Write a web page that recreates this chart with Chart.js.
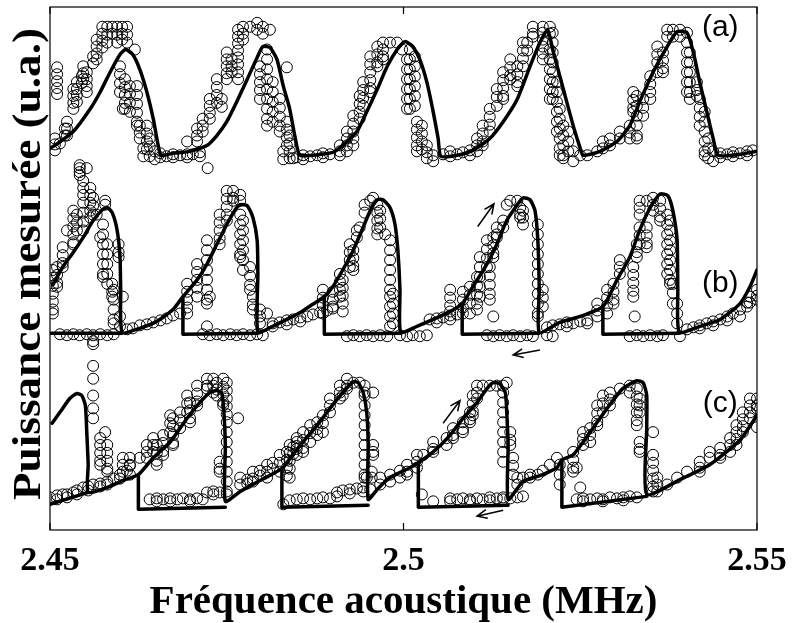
<!DOCTYPE html>
<html>
<head>
<meta charset="utf-8">
<script src="https://cdn.jsdelivr.net/npm/chart.js@4.4.1/dist/chart.umd.min.js"></script>
<style>
  html, body { margin: 0; padding: 0; background: #fff; }
  #plot { display: block; }
</style>
</head>
<body>
<canvas id="plot" width="792" height="623"></canvas>
<script>
// x ticks (MHz)
const freqTicks = [2.45, 2.5, 2.55];

// measured scans, one entry per frequency: [f (MHz), power, power, ...]
// (a), (b) and (c) are stacked on one arbitrary power axis
const scanA = [
  [2.4510,468,461,454,447,441],[2.4507,396,390,384],[2.4514,391],[2.4521,406,399],[2.4524,413,406,399],
  [2.4533,446,439,432,426],[2.4538,453,446,440,433],[2.4542,369,362],[2.4545,459,452],[2.4547,469,462,456],
  [2.4552,463,456,449,443],[2.4561,479,472],[2.4566,496,489,482,476],[2.4574,509,502,495,488],
  [2.4581,509,501,493],[2.4588,509,502],[2.4595,509,501,493],[2.4602,509,502,496],[2.4609,509,501,493],
  [2.4599,469,461,452,443],[2.4603,426],[2.4606,456,448,440,432,426],[2.4613,449,441,432,423],[2.4620,486],
  [2.4623,449,440,431,422,413,409],[2.4627,409,402,396],[2.4632,386,378],[2.4637,409,401,393,385],
  [2.4641,396,388,378],[2.4648,383,375],
  [2.4656,377,381],[2.4665,378],[2.4674,380,377],[2.4684,379],[2.4694,380,377,393],[2.4702,380],[2.4712,382,378],
  [2.4708,406,399,393],[2.4716,416,409,403],[2.4723,366],[2.4726,436,429,422,416],[2.4736,456,448,440,432],
  [2.4743,436,428],[2.4750,483,476,469,462,456],[2.4757,476,469,463],[2.4766,506,499,492,485,478,471,463,456],
  [2.4773,509,502,496],[2.4783,509],[2.4793,513,506],[2.4801,509,502],[2.4811,506],
  [2.4797,469,461,453,445,436],[2.4807,486,476,466,456,446,436,426,416,409],[2.4815,453,443,433,423,413],
  [2.4825,436,427,418,409,403],[2.4835,468,413,405,397,389],[2.4830,383,375],[2.4839,399,391,383,376],[2.4844,376],
  [2.4849,377],[2.4858,379,375],[2.4868,378],[2.4878,379],[2.4886,381,377],[2.4896,380],
  [2.4910,389,383,379],[2.4920,403,396,389,383],[2.4929,419,411,403,396,389],[2.4938,439,431,423,416],
  [2.4943,453,445,437,429],[2.4953,479,471,463,455,447,443],[2.4963,489,481,473,469],[2.4971,493,486,479,476],
  [2.4981,493],[2.4991,493],[2.4998,486],
  [2.5005,476,466,456,446,436,426],[2.5009,486,476,466,456,446,436,426],[2.5016,479,469,459,449,439,429],
  [2.5019,413,405,397,389,383],[2.5026,409,401,393,385],[2.5033,389,382,376],[2.5042,379,373],
  [2.5056,380],[2.5066,383,378],[2.5076,380],[2.5084,382],[2.5094,384,379],
  [2.5104,396,389,383],[2.5112,409,401,393,389],[2.5122,426,418,410,403],[2.5132,446,438,429],
  [2.5141,463,455,447,439,436],[2.5151,476,468,460,456],[2.5161,469,461,453,449],[2.5169,493,485,477,469],
  [2.5175,493,485],[2.5183,509,502,499],[2.5197,509,503,496,489,482,476],
  [2.5207,509,502,486,476,466,456,446,436],[2.5211,503,493,483,473,463,453,443,436],
  [2.5217,453,443,433,423,413,403],[2.5221,426,416,406,396,386,379],[2.5226,409,399,389,379,376],
  [2.5233,403,393,383],[2.5240,383,373],[2.5250,379],[2.5260,379],[2.5274,383],
  [2.5282,393,386],[2.5292,396,389],[2.5306,403,396],[2.5320,409,402,396],[2.5325,443,435,427,423],
  [2.5330,439,429,419,409,399,396],[2.5339,436,427,419],[2.5349,459,451,443,436],[2.5359,489,481,473,463],
  [2.5367,483,475,467,463],[2.5373,506,499],[2.5381,506,499],[2.5391,506,499],
  [2.5401,503,493,483,473,463,453,443],[2.5405,483,473,463,453,443,436],[2.5415,453,445,439],
  [2.5419,436,427,418,409],[2.5426,423,413,403,393,383,379],[2.5431,396,386,376],[2.5438,383,373],
  [2.5448,381,377],[2.5458,380],[2.5466,382,378],[2.5476,381],[2.5486,383,379],[2.5494,384]
];

const scanB = [
  [2.4542,366,359],[2.4552,366],[2.4547,353,346,339,331,321,312,303],[2.4557,346,339,331,323,316],
  [2.4504,263,255,247,239,231,223,219],[2.4510,266,258,250,246],[2.4518,286,278,270,266],[2.4524,303],
  [2.4533,323,315,307,299,291,289],[2.4538,319,311,303],[2.4561,336,328,319],[2.4566,319],[2.4571,296],
  [2.4578,333,329],[2.4575,309,299,289,279,269,259,256],[2.4581,289,279,269,259,249],[2.4588,249,241,236],
  [2.4590,243,233,223,213,209],[2.4597,289,281,276],[2.4603,236],[2.4599,216,206],
  [2.4514,198],[2.4524,197],[2.4533,198],[2.4542,197],[2.4552,198],[2.4561,197,188],[2.4571,198],[2.4581,197],[2.4590,198],
  [2.4609,203],[2.4617,204],[2.4627,207],[2.4637,208],[2.4646,210],[2.4656,212],[2.4665,214],[2.4674,217],[2.4684,219],
  [2.4694,249,241,233,225,219],[2.4708,269,261,253,245,236],[2.4722,293,283,273,263,253,243,233,229,206],
  [2.4726,236],[2.4740,319,311,303,295,289],[2.4750,343,335,327,319,313],[2.4759,343,336,333],
  [2.4769,339,333,319,309,299,289,279,276],[2.4773,313,303,293,283,273,263],[2.4783,266,257,248,243],
  [2.4787,236,228,223],[2.4797,223,216,209],[2.4807,219],
  [2.4716,198],[2.4726,197],[2.4736,198],[2.4745,197],[2.4755,198],[2.4764,197],[2.4773,198],[2.4783,197],[2.4793,198],[2.4801,197],
  [2.4815,209,206],[2.4825,210],[2.4835,212,208],[2.4844,213],[2.4854,215,211],[2.4864,216],[2.4872,218],[2.4882,220],[2.4892,222],[2.4900,224],
  [2.4886,243,235,227,219],[2.4900,241,233,226],[2.4910,259,251,243,236],[2.4914,253,245,237,229,221],
  [2.4924,289,281,273,266],[2.4929,283,275,267,263],[2.4934,303,296],[2.4938,306],[2.4945,329,321],
  [2.4953,333],[2.4957,336],[2.4963,329,321,313,305,299],[2.4967,323,315,306],[2.4974,299],
  [2.4981,293,283,273,263,253,243,236,226,216,206],[2.4985,239,229,219,209],
  [2.4920,196],[2.4929,197],[2.4938,196],[2.4948,197],[2.4957,196],[2.4967,197],[2.4977,196],[2.4995,197],[2.5005,196],[2.5013,197],[2.5023,196],[2.5033,197],
  [2.5037,213],[2.5047,214,210],[2.5056,215],[2.5066,243,235,227,221,217,213],[2.5076,218],
  [2.5084,241,233,225,219],[2.5094,246,238,229,219],[2.5104,256,247,238,229,223],[2.5108,276,266,256,246,236],
  [2.5118,293,284,275,266,197],[2.5122,266,257,248,239,233],[2.5127,296,288,280,276,216,196],[2.5132,306,299,296],
  [2.5136,197],[2.5141,313,306],[2.5146,329,196],[2.5151,333],[2.5155,197],[2.5161,333],[2.5165,326,319,316,196],
  [2.5169,323,316,309],[2.5175,197],[2.5183,196],[2.5190,309,299,289,279,269,259,249,239,229,219,216],
  [2.5197,243,235,226],[2.5203,197,205],[2.5211,196,207],
  [2.5221,208],[2.5231,206,210],[2.5240,209],[2.5250,211],[2.5260,209,212],
  [2.5274,229,222,216],[2.5288,243,235,227,219],[2.5297,249,241,233,229],[2.5306,273,266,259],
  [2.5325,266,258,250,242,236],[2.5327,216],[2.5330,289,281,276],[2.5334,333,326,319,306,298,289],
  [2.5344,333,306,298,290,286],[2.5353,336,329,323],[2.5363,333,325,317,313],
  [2.5373,319,309,299,289,279,269,259],[2.5377,313,303,293,283,273,263,253,249],[2.5381,249,240,229],[2.5387,229,219,209],
  [2.5320,196],[2.5330,197],[2.5339,196],[2.5349,197],[2.5359,196],[2.5367,197],[2.5391,196],
  [2.5401,203],[2.5410,205],[2.5419,207,204],[2.5429,209],[2.5438,211,207],[2.5448,213],[2.5458,216,212],
  [2.5466,219],[2.5476,223,216],[2.5486,226,230],[2.5490,236,230],[2.5500,243,237,233]
];

const scanC = [
  [2.4561,191,166,153,136,123,113,46],[2.4571,93,86,78,70,66,47,44],[2.4578,99],[2.4581,86,78,70,62,59,49,46],
  [2.4500,33],[2.4510,35,31],[2.4518,36],[2.4524,36,33],[2.4533,38],[2.4538,40,36],[2.4547,43],[2.4554,44,40],
  [2.4590,52],[2.4599,56,52],[2.4609,60],[2.4627,73],
  [2.4603,73,66,59],[2.4613,73,65,56,66],[2.4637,86,79,73],[2.4646,93,86,79],[2.4651,86,78,70,66],
  [2.4660,96,88,80,76],[2.4670,116,108,99],[2.4674,113,105,96,88,86],[2.4684,119,111,103],[2.4694,136,128,119],
  [2.4698,129,121,113,109],[2.4708,146,138,130,126],[2.4722,153,146,143,38],[2.4731,153,146,139,39,36],
  [2.4736,149,142,136],[2.4745,153,145,137,129,126],
  [2.4750,149,141,133,125,117,109,99,89,79,69,59,49,39,36],[2.4740,69,62,59,38],[2.4766,113],
  [2.4641,31],[2.4651,32,29],[2.4660,31],[2.4670,32,29],[2.4680,31],[2.4688,32],[2.4698,31,29],[2.4708,32],[2.4716,31],
  [2.4769,53,46],[2.4779,51,47],[2.4787,59,52,49],[2.4797,60,55],[2.4807,66,59,53],[2.4815,68,62],
  [2.4825,76,68,59],[2.4835,79,71,63,55],[2.4844,84,77],[2.4830,26],
  [2.4839,86,78,70,62,53,30],[2.4849,93,85,76,89,82,31],[2.4858,99,91,83,79,32],[2.4868,106,98,89,31],
  [2.4878,109,102,96,32],[2.4886,116,108,99,33],[2.4896,133,126,119,32],
  [2.4906,38,34],[2.4914,136,40],[2.4924,41,37],[2.4934,42],[2.4943,43,39],[2.4953,41],
  [2.4910,146,139,133],[2.4920,153,146,143],[2.4929,149],[2.4938,149],
  [2.4945,146,139,136,126,116,106,96,86,76,66,56,53],[2.4957,139,86,79,76],[2.4955,59,53],[2.4948,53],
  [2.4967,53,46],[2.4981,56,49],[2.4995,60,53],[2.5005,66,59,56],[2.5019,76,69,63],[2.5028,76],[2.5042,89,82,79,29],
  [2.5026,36],
  [2.5066,32,29],[2.5076,31],[2.5084,32],[2.5094,31,29],[2.5104,32],[2.5112,31],[2.5122,33,30],[2.5132,32],
  [2.5141,31,33],[2.5151,32],[2.5161,33],[2.5169,34],
  [2.5061,93,86],[2.5070,103,96,93],[2.5084,109,102,99],[2.5094,119,112,109],[2.5098,136,128,120,116],
  [2.5104,146,139,133],[2.5112,146],[2.5122,146],[2.5132,146],[2.5146,149],
  [2.5141,146,139,129,119,109,99,89,79,69],[2.5151,99,91,86],[2.5155,73,65,56],[2.5161,53,46],[2.5169,53],
  [2.5179,56,53],[2.5190,56],[2.5197,60],[2.5207,66],[2.5217,73],[2.5221,66,56,46],
  [2.5240,79,71,63,59],[2.5245,63,31],[2.5250,43],[2.5254,99,92,86,32,29],[2.5264,103,96,89,31],
  [2.5274,126,118,110,106,32],[2.5282,136,128,119,31,29],[2.5292,139,132,126,33],[2.5302,32],[2.5306,143],
  [2.5311,33,30],[2.5320,146,139,34],[2.5330,143,135,127,119,111,106,33],[2.5334,133,126,119,89,82,79],
  [2.5353,99,76,68,60,52,44,39],[2.5359,53,46,39],
  [2.5373,46],[2.5387,53],[2.5401,59],[2.5419,69,63,59],[2.5433,79,73],[2.5448,83,76,73],[2.5462,93,86,79],
  [2.5471,106,99,92,86],[2.5480,119,112,105,99],[2.5490,133,126,119,113],[2.5500,133,126,123,104]
];

// model curves [f, power]
const modelA = [
  [2.4500,386],[2.4507,389],[2.4533,403],[2.4557,426],[2.4571,443],[2.4585,463],[2.4599,481],[2.4607,486],
  [2.4617,481],[2.4627,466],[2.4637,443],[2.4646,416],[2.4653,389],[2.4657,379],[2.4674,381],[2.4698,383],
  [2.4722,389],[2.4736,399],[2.4750,413],[2.4764,433],[2.4779,456],[2.4793,478],[2.4801,489],[2.4811,488],
  [2.4821,476],[2.4830,449],[2.4839,426],[2.4847,396],[2.4854,379],[2.4900,382],[2.4914,389],[2.4934,403],
  [2.4948,423],[2.4963,446],[2.4977,469],[2.4991,486],[2.5002,494],[2.5013,489],[2.5023,476],[2.5033,453],
  [2.5042,423],[2.5049,396],[2.5053,378],[2.5076,379],[2.5098,384],[2.5122,396],[2.5141,413],[2.5161,436],
  [2.5179,469],[2.5193,493],[2.5204,506],[2.5211,486],[2.5226,446],[2.5240,409],[2.5250,386],[2.5254,379],
  [2.5278,383],[2.5302,393],[2.5320,409],[2.5334,433],[2.5353,463],[2.5373,489],[2.5387,504],[2.5401,503],
  [2.5410,483],[2.5419,453],[2.5429,423],[2.5438,396],[2.5445,379],[2.5476,380],[2.5500,383]
];

// (b) and (c): upper branch (increasing sweep) and lower branch pieces (decreasing sweep)
const upperB = [
  [2.4504,248],[2.4518,266],[2.4533,281],[2.4547,296],[2.4561,313],[2.4574,324],[2.4581,326],[2.4588,321],
  [2.4595,303],[2.4599,276],[2.4600,243],[2.4602,200],
  [2.4627,204],[2.4651,211],[2.4674,223],[2.4688,236],[2.4708,253],[2.4722,269],[2.4736,289],[2.4750,309],
  [2.4762,324],[2.4769,329],[2.4779,328],[2.4787,316],[2.4793,293],[2.4794,259],[2.4794,200],
  [2.4815,206],[2.4835,213],[2.4854,220],[2.4871,228],[2.4888,236],[2.4900,246],[2.4914,263],[2.4929,283],
  [2.4941,303],[2.4953,323],[2.4963,334],[2.4971,334],[2.4981,326],[2.4988,309],[2.4992,283],[2.4995,243],[2.4996,200],
  [2.5019,206],[2.5042,213],[2.5066,221],[2.5083,229],[2.5098,246],[2.5118,269],[2.5132,289],[2.5146,313],
  [2.5161,329],[2.5169,336],[2.5179,334],[2.5186,323],[2.5190,293],[2.5192,243],[2.5192,200],
  [2.5221,210],[2.5250,216],[2.5282,226],[2.5302,253],[2.5320,276],[2.5334,303],[2.5349,326],[2.5363,340],
  [2.5374,338],[2.5381,323],[2.5387,293],[2.5388,243],[2.5390,200],
  [2.5419,206],[2.5448,213],[2.5476,229],[2.5490,246],[2.5500,263]
];
const lowerB = [
  [[2.4500,199],[2.4602,199]],
  [[2.4688,236],[2.4688,198],[2.4794,199]],
  [[2.4888,236],[2.4888,198],[2.4996,199]],
  [[2.5083,229],[2.5083,198],[2.5192,199]],
  [[2.5282,226],[2.5282,198],[2.5390,199]]
];

const upperC = [
  [2.4503,108],[2.4514,119],[2.4528,133],[2.4538,138],[2.4545,136],[2.4550,126],[2.4552,99],[2.4554,66],[2.4554,38],
  [2.4581,43],[2.4603,50],[2.4625,56],[2.4646,73],[2.4670,89],[2.4694,113],[2.4712,129],[2.4726,139],
  [2.4736,141],[2.4743,138],[2.4746,119],[2.4748,86],[2.4748,29],
  [2.4769,39],[2.4797,50],[2.4828,62],[2.4839,72],[2.4858,89],[2.4878,106],[2.4896,123],[2.4914,139],
  [2.4929,150],[2.4936,149],[2.4943,139],[2.4948,119],[2.4950,86],[2.4950,31],
  [2.4964,42],[2.4981,53],[2.5009,63],[2.5021,68],[2.5042,79],[2.5066,96],[2.5084,113],[2.5104,129],
  [2.5118,143],[2.5127,149],[2.5136,148],[2.5144,139],[2.5146,119],[2.5148,86],[2.5148,31],
  [2.5169,49],[2.5197,56],[2.5217,63],[2.5224,71],[2.5240,76],[2.5264,99],[2.5288,123],[2.5310,143],
  [2.5330,151],[2.5339,149],[2.5344,136],[2.5344,103],[2.5344,36],
  [2.5391,51],[2.5433,66],[2.5476,91],[2.5500,116]
];
const lowerC = [
  [[2.4500,26],[2.4554,38]],
  [[2.4625,56],[2.4625,21],[2.4748,23]],
  [[2.4828,62],[2.4828,23],[2.4950,25]],
  [[2.5021,68],[2.5021,23],[2.5148,25]],
  [[2.5224,71],[2.5224,23],[2.5344,34]]
];

// sweep direction arrows [f tail, power tail, f head, power head]
const sweepArrows = [
  [2.5105,307,2.5128,330],
  [2.5193,182,2.5155,177],
  [2.5056,108,2.5080,131],
  [2.5141,20,2.5104,14]
];
const panelLabels = [['(a)',2.5448,508],['(b)',2.5448,249],['(c)',2.5448,128]];

const serif = "'Liberation Serif', 'Times New Roman', Times, serif";

function stacksToPoints(stacks) {
    var pts = [];
    stacks.forEach(function (s) {
        for (var i = 1; i < s.length; i++) {
            pts.push({x: s[0], y: s[i]});
        }
    });
    return pts;
}

function pairsToPoints(pairs) {
    return pairs.map(function (p) { return {x: p[0], y: p[1]}; });
}

var datasets = [];
[scanA, scanB, scanC].forEach(function (scan) {
    datasets.push({
        data: stacksToPoints(scan),
        showLine: false,
        pointStyle: 'circle',
        pointRadius: 5.5,
        pointHoverRadius: 5.5,
        pointBorderWidth: 1,
        pointBorderColor: '#000',
        pointBackgroundColor: 'rgba(0,0,0,0)',
        order: 2
    });
});
[modelA, upperB, upperC].forEach(function (curve) {
    datasets.push({
        data: pairsToPoints(curve),
        showLine: true,
        pointRadius: 0,
        borderColor: '#000',
        borderWidth: 3.5,
        borderJoinStyle: 'round',
        borderCapStyle: 'round',
        tension: 0.2,
        fill: false,
        order: 1
    });
});
lowerB.concat(lowerC).forEach(function (piece) {
    datasets.push({
        data: pairsToPoints(piece),
        showLine: true,
        pointRadius: 0,
        borderColor: '#000',
        borderWidth: 3.5,
        borderJoinStyle: 'round',
        borderCapStyle: 'round',
        tension: 0,
        fill: false,
        order: 1
    });
});

function drawArrow(ctx, x0, y0, x1, y1) {
    var ang = Math.atan2(y1 - y0, x1 - x0), h = 11, spread = 0.42;
    ctx.beginPath();
    ctx.moveTo(x0, y0);
    ctx.lineTo(x1, y1);
    ctx.moveTo(x1 - h * Math.cos(ang - spread), y1 - h * Math.sin(ang - spread));
    ctx.lineTo(x1, y1);
    ctx.lineTo(x1 - h * Math.cos(ang + spread), y1 - h * Math.sin(ang + spread));
    ctx.stroke();
}

// frame, inner ticks, arrows, panel letters and the y title
var decorations = {
    id: 'decorations',
    afterDatasetsDraw: function (chart) {
        var ctx = chart.ctx, area = chart.chartArea;
        var xs = chart.scales.x, ys = chart.scales.y;
        ctx.save();
        ctx.strokeStyle = '#000';
        ctx.lineWidth = 1.2;
        ctx.strokeRect(area.left, area.top, area.right - area.left, area.bottom - area.top);
        freqTicks.forEach(function (v) {
            var px = xs.getPixelForValue(v);
            ctx.beginPath();
            ctx.moveTo(px, area.bottom);
            ctx.lineTo(px, area.bottom - 7);
            ctx.moveTo(px, area.top);
            ctx.lineTo(px, area.top + 7);
            ctx.stroke();
        });

        ctx.lineWidth = 1.5;
        sweepArrows.forEach(function (a) {
            drawArrow(ctx, xs.getPixelForValue(a[0]), ys.getPixelForValue(a[1]),
                xs.getPixelForValue(a[2]), ys.getPixelForValue(a[3]));
        });

        ctx.fillStyle = '#000';
        ctx.font = "30px 'Liberation Sans', Arial, sans-serif";
        ctx.textAlign = 'center';
        ctx.textBaseline = 'middle';
        panelLabels.forEach(function (l) {
            ctx.fillText(l[0], xs.getPixelForValue(l[1]), ys.getPixelForValue(l[2]));
        });

        ctx.translate(30, area.top + 257);
        ctx.rotate(-Math.PI / 2);
        ctx.scale(1.13, 1);
        ctx.font = 'bold 40px ' + serif;
        ctx.fillText('Puissance mesurée (u.a.)', 0, 0);
        ctx.restore();
    }
};

new Chart(document.getElementById('plot').getContext('2d'), {
    type: 'scatter',
    data: { datasets: datasets },
    options: {
        responsive: false,
        devicePixelRatio: 1,
        animation: false,
        events: [],
        layout: { padding: { left: 50, right: 35, top: 7, bottom: 0 } },
        plugins: {
            legend: { display: false },
            tooltip: { enabled: false }
        },
        scales: {
            x: {
                type: 'linear',
                min: 2.45,
                max: 2.55,
                afterBuildTicks: function (axis) {
                    axis.ticks = freqTicks.map(function (v) { return {value: v}; });
                },
                // edge labels hang over the margins, don't let them shrink the plot
                afterFit: function (axis) {
                    axis.paddingLeft = 0;
                    axis.paddingRight = 0;
                },
                grid: { display: false, drawTicks: false },
                border: { display: false },
                ticks: {
                    color: '#000',
                    padding: 14,
                    maxRotation: 0,
                    autoSkip: false,
                    font: { family: serif, size: 34, weight: 'bold', lineHeight: 1 },
                    callback: function (v) { return String(v); }
                },
                title: {
                    display: true,
                    text: 'Fréquence acoustique (MHz)',
                    color: '#000',
                    font: { family: serif, size: 41, weight: 'bold', lineHeight: 1 },
                    padding: { top: -10, bottom: 0 }
                }
            },
            y: {
                display: false,
                min: 0,
                max: 529
            }
        }
    },
    plugins: [decorations]
});
</script>
</body>
</html>
